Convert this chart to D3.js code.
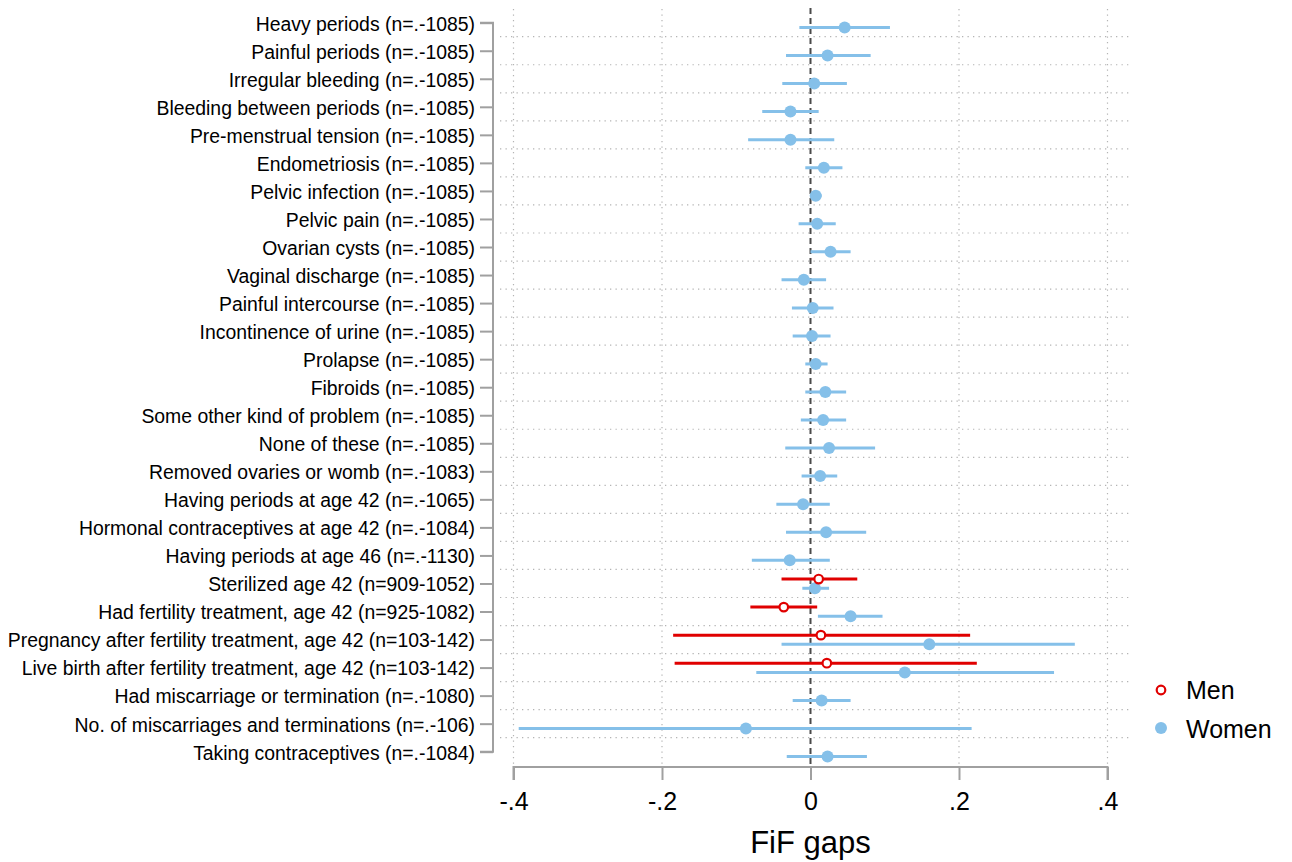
<!DOCTYPE html>
<html>
<head>
<meta charset="utf-8">
<script src="https://cdn.jsdelivr.net/npm/d3@7"></script>
<style>
  html, body { margin: 0; padding: 0; background: #fff; }
  svg { display: block; font-family: "Liberation Sans", Arial, sans-serif; }
</style>
</head>
<body>
<svg id="chart" width="1292" height="862"></svg>
<script>
// Outcome labels, top to bottom
const categories = [
  "Heavy periods (n=.-1085)",
  "Painful periods (n=.-1085)",
  "Irregular bleeding (n=.-1085)",
  "Bleeding between periods (n=.-1085)",
  "Pre-menstrual tension (n=.-1085)",
  "Endometriosis (n=.-1085)",
  "Pelvic infection (n=.-1085)",
  "Pelvic pain (n=.-1085)",
  "Ovarian cysts (n=.-1085)",
  "Vaginal discharge (n=.-1085)",
  "Painful intercourse (n=.-1085)",
  "Incontinence of urine (n=.-1085)",
  "Prolapse (n=.-1085)",
  "Fibroids (n=.-1085)",
  "Some other kind of problem (n=.-1085)",
  "None of these (n=.-1085)",
  "Removed ovaries or womb (n=.-1083)",
  "Having periods at age 42 (n=.-1065)",
  "Hormonal contraceptives at age 42 (n=.-1084)",
  "Having periods at age 46 (n=.-1130)",
  "Sterilized age 42 (n=909-1052)",
  "Had fertility treatment, age 42 (n=925-1082)",
  "Pregnancy after fertility treatment, age 42 (n=103-142)",
  "Live birth after fertility treatment, age 42 (n=103-142)",
  "Had miscarriage or termination (n=.-1080)",
  "No. of miscarriages and terminations (n=.-106)",
  "Taking contraceptives (n=.-1084)"
];

// Women: estimate, lower and upper 95% bounds
const womenEst = [0.046, 0.023, 0.005, -0.027, -0.027, 0.018, 0.007, 0.009, 0.027, -0.009,
                  0.003, 0.002, 0.007, 0.020, 0.017, 0.025, 0.013, -0.010, 0.021, -0.028,
                  0.006, 0.054, 0.160, 0.127, 0.015, -0.087, 0.023];
const womenLo  = [-0.015, -0.033, -0.038, -0.065, -0.084, -0.007, 0.001, -0.016, 0.000, -0.039,
                  -0.025, -0.024, -0.007, -0.007, -0.013, -0.034, -0.012, -0.046, -0.033, -0.079,
                  -0.011, 0.010, -0.039, -0.073, -0.024, -0.393, -0.032];
const womenHi  = [0.107, 0.081, 0.049, 0.011, 0.032, 0.043, 0.015, 0.034, 0.054, 0.021,
                  0.031, 0.027, 0.023, 0.048, 0.048, 0.087, 0.036, 0.026, 0.075, 0.026,
                  0.025, 0.097, 0.356, 0.328, 0.054, 0.217, 0.076];

// Men: only the four fertility outcomes (row indices)
const menRows = [20, 21, 22, 23];
const menEst  = [0.011, -0.036, 0.014, 0.022];
const menLo   = [-0.039, -0.081, -0.185, -0.183];
const menHi   = [0.063, 0.009, 0.215, 0.224];

const xTicks = [-0.4, -0.2, 0, 0.2, 0.4];
const xTickLabels = ["-.4", "-.2", "0", ".2", ".4"];
const legendLabels = ["Men", "Women"];

const colMen = "#E00000";
const colWomen = "#85C0E9";
const axisCol = "#a0a0a0";
const gridCol = "#b4b4b4";

const svg = d3.select("#chart");

const x = d3.scaleLinear().domain([-0.4, 0.4]).range([513.5, 1107.5]);
const y = d3.scalePoint().domain(d3.range(categories.length)).range([22.7, 751.7]);
const step = y.step();

const women = categories.map((c, i) => ({ i, est: womenEst[i], lo: womenLo[i], hi: womenHi[i] }));
const men = menRows.map((r, k) => ({ i: r, est: menEst[k], lo: menLo[k], hi: menHi[k] }));

const offWomen = 4.8, offMen = -4.4;

// horizontal dotted grid between rows
const gridG = svg.append("g");
gridG.selectAll("line.h").data(d3.range(categories.length - 1)).join("line")
  .attr("x1", 500).attr("x2", 1130)
  .attr("y1", d => y(d) + step / 2).attr("y2", d => y(d) + step / 2)
  .attr("stroke", gridCol).attr("stroke-width", 1.2)
  .attr("stroke-dasharray", "1.3,4.2");

// vertical dotted grid at non-zero ticks
gridG.selectAll("line.v").data(xTicks.filter(t => t !== 0)).join("line")
  .attr("x1", d => x(d)).attr("x2", d => x(d))
  .attr("y1", 9).attr("y2", 766)
  .attr("stroke", gridCol).attr("stroke-width", 1.2)
  .attr("stroke-dasharray", "1.3,4.2");

// zero reference line
svg.append("line")
  .attr("x1", x(0)).attr("x2", x(0)).attr("y1", 8).attr("y2", 766)
  .attr("stroke", "#4a4a4a").attr("stroke-width", 2)
  .attr("stroke-dasharray", "6,4");

// women CIs and points
svg.append("g").selectAll("line").data(women).join("line")
  .attr("x1", d => x(d.lo)).attr("x2", d => x(d.hi))
  .attr("y1", d => y(d.i) + offWomen).attr("y2", d => y(d.i) + offWomen)
  .attr("stroke", colWomen).attr("stroke-width", 3);
svg.append("g").selectAll("circle").data(women).join("circle")
  .attr("cx", d => x(d.est)).attr("cy", d => y(d.i) + offWomen)
  .attr("r", 6).attr("fill", colWomen);

// men CIs and points
svg.append("g").selectAll("line").data(men).join("line")
  .attr("x1", d => x(d.lo)).attr("x2", d => x(d.hi))
  .attr("y1", d => y(d.i) + offMen).attr("y2", d => y(d.i) + offMen)
  .attr("stroke", colMen).attr("stroke-width", 3);
svg.append("g").selectAll("circle").data(men).join("circle")
  .attr("cx", d => x(d.est)).attr("cy", d => y(d.i) + offMen)
  .attr("r", 4.3).attr("fill", "#fff").attr("stroke", colMen).attr("stroke-width", 2.2);

// y axis
const yAxis = d3.axisLeft(y).tickSize(13).tickPadding(5).tickFormat(i => categories[i]);
const yG = svg.append("g").attr("transform", "translate(493,0)").call(yAxis);
yG.select(".domain").attr("stroke", axisCol).attr("stroke-width", 2)
  .attr("d", `M-13,${y(0)}H0V${y(categories.length - 1)}H-13`);
yG.selectAll(".tick line").attr("stroke", axisCol).attr("stroke-width", 2);
yG.selectAll(".tick text").attr("fill", "#000").style("font-size", "19.4px")
  .attr("font-family", "Liberation Sans, Arial, sans-serif")
  .attr("dy", "0.38em");

// x axis
const xAxis = d3.axisBottom(x).tickValues(xTicks).tickSize(13).tickPadding(8)
  .tickFormat((d, i) => xTickLabels[i]);
const xG = svg.append("g").attr("transform", "translate(0,767)").call(xAxis);
xG.select(".domain").attr("stroke", axisCol).attr("stroke-width", 2)
  .attr("d", `M${x(-0.4)},13V0H${x(0.4)}V13`);
xG.selectAll(".tick line").attr("stroke", axisCol).attr("stroke-width", 2);
xG.selectAll(".tick text").attr("fill", "#000").style("font-size", "25px")
  .attr("font-family", "Liberation Sans, Arial, sans-serif")
  .attr("y", 43).attr("dy", null);

// x axis title
svg.append("text").attr("x", x(0)).attr("y", 853)
  .attr("text-anchor", "middle").style("font-size", "31px").attr("fill", "#000")
  .text("FiF gaps");

// legend
const leg = svg.append("g");
leg.append("circle").attr("cx", 1161).attr("cy", 690).attr("r", 4.3)
  .attr("fill", "#fff").attr("stroke", colMen).attr("stroke-width", 2.2);
leg.append("circle").attr("cx", 1161).attr("cy", 728).attr("r", 6).attr("fill", colWomen);
leg.selectAll("text").data(legendLabels).join("text")
  .attr("x", 1186).attr("y", (d, i) => 699 + i * 38.5)
  .style("font-size", "25px").attr("fill", "#000").text(d => d);
</script>
</body>
</html>
